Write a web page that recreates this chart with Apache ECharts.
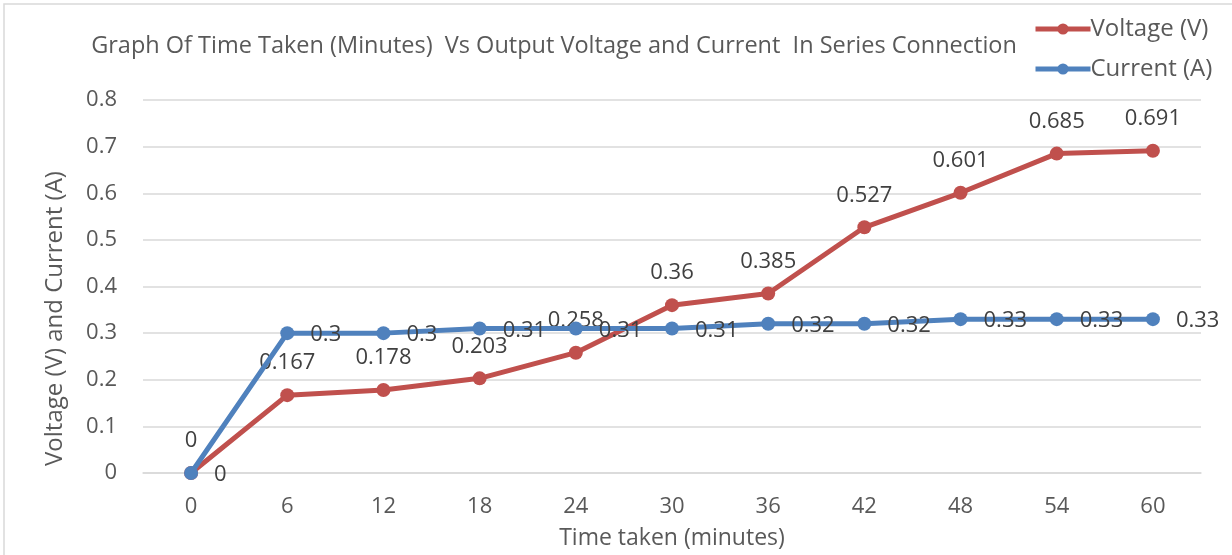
<!DOCTYPE html>
<html>
<head>
<meta charset="utf-8">
<script src="https://cdn.jsdelivr.net/npm/echarts@6/dist/echarts.min.js"></script>
<style>
  html, body { margin: 0; padding: 0; background: #ffffff; }
  #chart { width: 1232px; height: 555px; }
</style>
</head>
<body>
<div id="chart"></div>
<script>
// Time points (minutes) and measured readings
const times = ['0', '6', '12', '18', '24', '30', '36', '42', '48', '54', '60'];
const voltage = [0, 0.167, 0.178, 0.203, 0.258, 0.36, 0.385, 0.527, 0.601, 0.685, 0.691];
const current = [0, 0.3, 0.3, 0.31, 0.31, 0.31, 0.32, 0.32, 0.33, 0.33, 0.33];

const FONT = '"Open Sans", "Noto Sans", sans-serif';
const RED = '#C0504D';
const BLUE = '#4F81BD';

const chart = echarts.init(document.getElementById('chart'), null, { renderer: 'canvas' });

chart.setOption({
  backgroundColor: '#ffffff',
  animation: false,
  textStyle: { fontFamily: FONT },
  graphic: [{
    type: 'rect',
    shape: { x: 4, y: 4, width: 1240, height: 560 },
    style: { fill: 'none', stroke: '#d9d9d9', lineWidth: 1.5 },
    silent: true
  }],
  title: {
    text: 'Graph Of Time Taken (Minutes)  Vs Output Voltage and Current  In Series Connection',
    left: 549,
    textAlign: 'center',
    top: 29,
    textStyle: { fontFamily: FONT, fontSize: 23.5, fontWeight: 'normal', color: '#595959' }
  },
  legend: {
    orient: 'vertical',
    left: 1028,
    top: 12,
    itemWidth: 55,
    itemHeight: 14,
    itemGap: 16,
    lineStyle: { width: 5 },
    textStyle: { fontFamily: FONT, fontSize: 24, color: '#595959', padding: [0, 0, 0, -5] },
    data: ['Voltage (V)', 'Current (A)']
  },
  grid: { left: 143, right: 31, top: 100, bottom: 80 },
  xAxis: {
    type: 'category',
    data: times,
    boundaryGap: true,
    name: 'Time taken (minutes)',
    nameLocation: 'middle',
    nameGap: 54,
    nameTextStyle: { fontFamily: FONT, fontSize: 23, color: '#595959' },
    axisLine: { show: true, lineStyle: { color: '#d9d9d9', width: 1.5 } },
    axisTick: { show: false },
    axisLabel: { fontFamily: FONT, fontSize: 22, color: '#595959', margin: 23 }
  },
  yAxis: {
    type: 'value',
    min: 0,
    max: 0.8,
    interval: 0.1,
    name: 'Voltage (V) and Current (A)',
    nameLocation: 'middle',
    nameGap: 76,
    // right padding pushes the rotated title toward the bottom of the axis
    nameTextStyle: { fontFamily: FONT, fontSize: 24, color: '#595959', padding: [0, 64, 0, 0] },
    axisLine: { show: false },
    axisTick: { show: false },
    axisLabel: { fontFamily: FONT, fontSize: 22, color: '#595959', margin: 26 },
    splitLine: { show: true, lineStyle: { color: '#d9d9d9', width: 1.5 } }
  },
  series: [
    {
      name: 'Voltage (V)',
      type: 'line',
      data: voltage,
      symbol: 'circle',
      symbolSize: 14,
      itemStyle: { color: RED },
      lineStyle: { color: RED, width: 5 },
      label: {
        show: true,
        position: 'top',
        distance: 14,
        fontFamily: FONT,
        fontSize: 22,
        color: '#404040'
      },
      z: 2
    },
    {
      name: 'Current (A)',
      type: 'line',
      data: current,
      symbol: 'circle',
      symbolSize: 14,
      itemStyle: { color: BLUE },
      lineStyle: { color: BLUE, width: 5 },
      label: {
        show: true,
        position: 'right',
        distance: 16,
        offset: [0, 2],
        fontFamily: FONT,
        fontSize: 22,
        color: '#404040'
      },
      z: 3
    }
  ]
});
</script>
</body>
</html>
